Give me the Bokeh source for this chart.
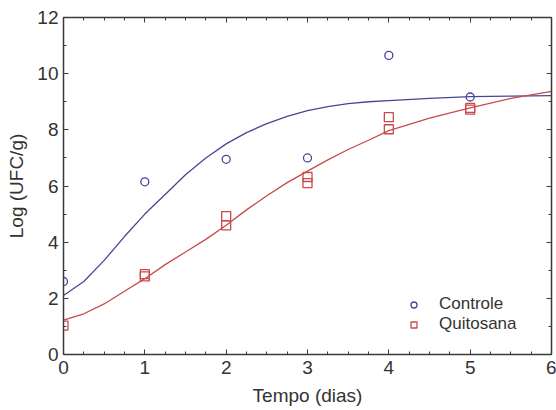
from bokeh.plotting import figure
from bokeh.models import (LinearAxis, SingleIntervalTicker, Range1d, Legend, LegendItem,
                          CustomJSTickFormatter)
from bokeh.embed import file_html
from bokeh.resources import INLINE

# Observed data
ctrl_x = [0, 1, 2, 3, 4, 5]
ctrl_y = [2.6, 6.15, 6.95, 7.0, 10.65, 9.17]
quit_x = [0, 1, 1, 2, 2, 3, 3, 4, 4, 5, 5]
quit_y = [1.03, 2.86, 2.78, 4.93, 4.6, 6.32, 6.1, 8.45, 8.02, 8.72, 8.78]

# Fitted curves
fit_x = [0, 0.25, 0.5, 0.75, 1.0, 1.25, 1.5, 1.75, 2.0, 2.25, 2.5, 2.75, 3.0,
         3.25, 3.5, 3.75, 4.0, 4.5, 5.0, 5.5, 6.0]
ctrl_fit = [2.1, 2.6, 3.35, 4.2, 5.0, 5.7, 6.4, 7.0, 7.5, 7.9, 8.22, 8.48, 8.68,
            8.83, 8.93, 9.0, 9.04, 9.12, 9.18, 9.2, 9.22]
quit_fit = [1.22, 1.45, 1.8, 2.25, 2.7, 3.2, 3.65, 4.1, 4.6, 5.15, 5.65, 6.12, 6.53,
            6.93, 7.3, 7.63, 7.97, 8.42, 8.78, 9.12, 9.37]

x_ticks = [0, 1, 2, 3, 4, 5, 6]
y_ticks = [0, 2, 4, 6, 8, 10, 12]

BLUE = "#46469a"
RED = "#c84a4a"
AX = "#3a3a3a"
FONT = "Liberation Sans"

p = figure(width=556, height=410, output_backend="svg", toolbar_location=None,
           x_range=Range1d(0, 6), y_range=Range1d(0, 12),
           min_border_left=63, min_border_top=17, min_border_right=5, min_border_bottom=56,
           x_axis_label="Tempo (dias)", y_axis_label="Log (UFC/g)")
p.outline_line_color = None
p.xgrid.visible = False
p.ygrid.visible = False

l1 = p.line(fit_x, ctrl_fit, line_color=BLUE, line_width=1.3)
l2 = p.line(fit_x, quit_fit, line_color=RED, line_width=1.3)
s1 = p.scatter(ctrl_x, ctrl_y, marker="circle", size=8, fill_color=None,
               line_color=BLUE, line_width=1.3)
s2 = p.scatter(quit_x, quit_y, marker="square", size=9, fill_color=None,
               line_color=RED, line_width=1.3)

def style(ax, labels=True):
    ax.axis_line_color = AX
    ax.axis_line_width = 1.5
    ax.major_tick_line_color = AX
    ax.minor_tick_line_color = AX
    ax.major_tick_in = 5
    ax.major_tick_out = 0
    ax.minor_tick_in = 3
    ax.minor_tick_out = 0
    if labels:
        ax.major_label_text_font = FONT
        ax.major_label_text_font_size = "19px"
        ax.major_label_text_color = "#333333"
        ax.axis_label_text_font = FONT
        ax.axis_label_text_font_size = "19px"
        ax.axis_label_text_font_style = "normal"
        ax.axis_label_text_color = "#333333"
    else:
        ax.formatter = CustomJSTickFormatter(code="return ''")
        ax.major_label_standoff = 0

p.xaxis.ticker = SingleIntervalTicker(interval=1, num_minor_ticks=4)
p.yaxis.ticker = SingleIntervalTicker(interval=2, num_minor_ticks=2)
style(p.xaxis[0])
style(p.yaxis[0])
p.xaxis[0].major_label_standoff = 6
p.xaxis[0].axis_label_standoff = 8
p.yaxis[0].major_label_standoff = 5
p.yaxis[0].axis_label_standoff = 7

top = LinearAxis(ticker=SingleIntervalTicker(interval=1, num_minor_ticks=4))
right = LinearAxis(ticker=SingleIntervalTicker(interval=2, num_minor_ticks=2))
style(top, labels=False)
style(right, labels=False)
p.add_layout(top, "above")
p.add_layout(right, "right")

legend = Legend(items=[LegendItem(label="Controle", renderers=[s1]),
                       LegendItem(label="Quitosana", renderers=[s2])],
                location=(343, 20), border_line_color=None, background_fill_alpha=0,
                label_text_font=FONT, label_text_font_size="17px",
                label_text_color="#333333", spacing=0, padding=4,
                glyph_width=15, glyph_height=15, label_height=15, label_standoff=18)
p.add_layout(legend)

open("out.html", "w").write(file_html(p, INLINE))
